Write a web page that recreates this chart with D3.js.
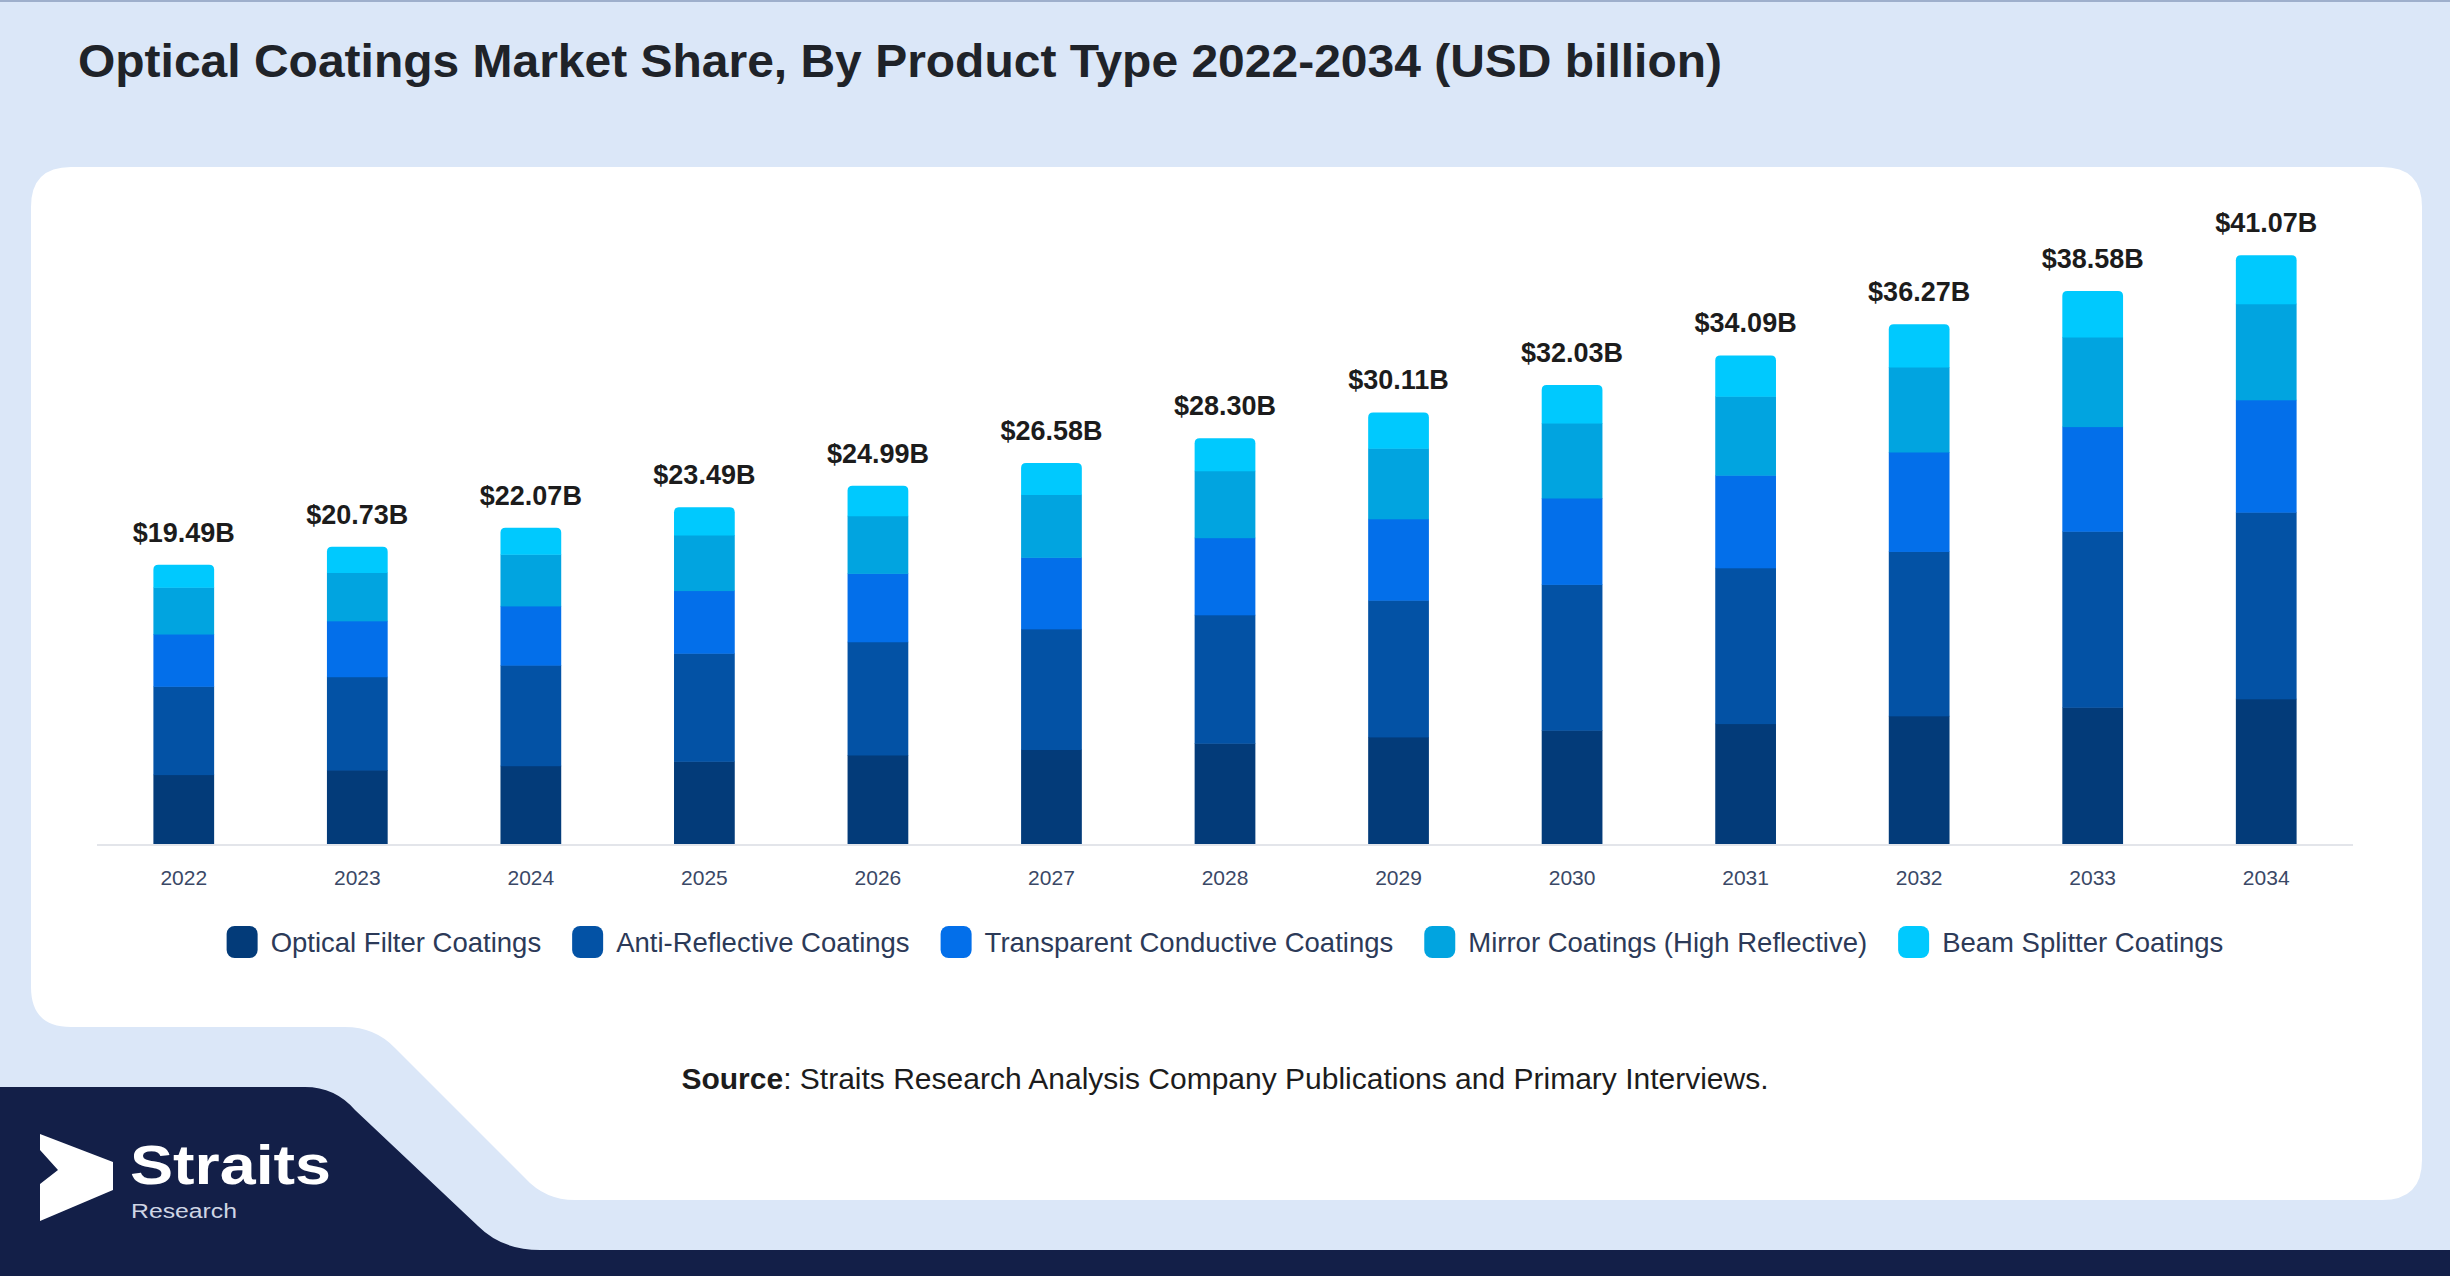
<!DOCTYPE html>
<html>
<head>
<meta charset="utf-8">
<style>
  html, body { margin: 0; padding: 0; background: #dbe7f8; }
  svg { display: block; font-family: "Liberation Sans", Arial, sans-serif; }
</style>
</head>
<body>
<script src="https://cdn.jsdelivr.net/npm/d3@7"></script>
<script>
  const years = ['2022', '2023', '2024', '2025', '2026', '2027', '2028', '2029', '2030', '2031', '2032', '2033', '2034'];
  const seriesNames = ['Optical Filter Coatings', 'Anti-Reflective Coatings', 'Transparent Conductive Coatings',
    'Mirror Coatings (High Reflective)', 'Beam Splitter Coatings'];
  const opticalFilter = [4.84, 5.16, 5.46, 5.77, 6.21, 6.59, 7.03, 7.47, 7.94, 8.40, 8.94, 9.54, 10.13];
  const antiReflective = [6.16, 6.51, 7.02, 7.54, 7.90, 8.42, 8.96, 9.54, 10.17, 10.87, 11.47, 12.28, 13.02];
  const transparentConductive = [3.65, 3.90, 4.13, 4.37, 4.77, 4.99, 5.38, 5.68, 6.03, 6.46, 6.94, 7.30, 7.84];
  const mirror = [3.26, 3.37, 3.60, 3.88, 4.02, 4.38, 4.67, 4.92, 5.23, 5.51, 5.93, 6.26, 6.71];
  const beamSplitter = [1.58, 1.79, 1.86, 1.93, 2.09, 2.20, 2.26, 2.50, 2.66, 2.85, 2.99, 3.20, 3.37];
  const totals = [19.49, 20.73, 22.07, 23.49, 24.99, 26.58, 28.30, 30.11, 32.03, 34.09, 36.27, 38.58, 41.07];
  const colors = ['#033b79', '#0352a5', '#036fea', '#01a4e0', '#00c9fe'];

  const W = 2450, H = 1276;
  const svg = d3.select('body').append('svg').attr('width', W).attr('height', H);

  // backdrop
  svg.append('rect').attr('width', W).attr('height', H).attr('fill', '#dbe7f8');
  svg.append('rect').attr('width', W).attr('height', 2).attr('fill', '#9eafcc');

  // white card with the cut corner at bottom left
  svg.append('path')
    .attr('fill', '#ffffff')
    .attr('d', 'M31,207 Q31,167 71,167 L2382,167 Q2422,167 2422,207 L2422,1160 Q2422,1200 2382,1200 ' +
      'L575,1200 Q545,1200 525,1178 L395,1048 Q375,1027 345,1027 L71,1027 Q31,1027 31,987 Z');

  // navy footer
  svg.append('path')
    .attr('fill', '#131f48')
    .attr('d', 'M0,1087 L305,1087 Q335,1087 355,1110 L478,1226 Q502,1250 540,1250 L2450,1250 L2450,1276 L0,1276 Z');

  // logo
  svg.append('polygon')
    .attr('fill', '#ffffff')
    .attr('points', '40,1134 113,1162 113,1190 40,1221 40,1184 58,1170 40,1150');
  svg.append('text').attr('x', 130).attr('y', 1184)
    .attr('font-size', 56).attr('font-weight', 'bold').attr('fill', '#ffffff')
    .attr('textLength', 201).attr('lengthAdjust', 'spacingAndGlyphs')
    .text('Straits');
  svg.append('text').attr('x', 131).attr('y', 1218)
    .attr('font-size', 20).attr('fill', '#cfd5e4')
    .attr('textLength', 106).attr('lengthAdjust', 'spacingAndGlyphs')
    .text('Research');

  // title
  svg.append('text').attr('x', 78).attr('y', 77)
    .attr('font-size', 46).attr('font-weight', 'bold').attr('fill', '#1f2329')
    .attr('textLength', 1644).attr('lengthAdjust', 'spacingAndGlyphs')
    .text('Optical Coatings Market Share, By Product Type 2022-2034 (USD billion)');

  // chart
  const x = d3.scaleBand().domain(years).range([97, 2353]).paddingInner(0.65).paddingOuter(0.325);
  const y = d3.scaleLinear().domain([0, 45]).range([844, 199]);

  const table = years.map((yr, i) => ({
    year: yr,
    s0: opticalFilter[i], s1: antiReflective[i], s2: transparentConductive[i], s3: mirror[i], s4: beamSplitter[i]
  }));
  const keys = ['s0', 's1', 's2', 's3', 's4'];
  const stacked = d3.stack().keys(keys)(table);

  const layers = svg.append('g').selectAll('g').data(stacked).join('g')
    .attr('fill', (d, i) => colors[i]);

  layers.each(function(layer, li) {
    const g = d3.select(this);
    if (li < keys.length - 1) {
      g.selectAll('rect').data(layer).join('rect')
        .attr('x', d => x(d.data.year))
        .attr('width', x.bandwidth())
        .attr('y', d => y(d[1]))
        .attr('height', d => y(d[0]) - y(d[1]) + 0.5);
    } else {
      const r = 5;
      g.selectAll('path').data(layer).join('path')
        .attr('d', d => {
          const x0 = x(d.data.year), x1 = x0 + x.bandwidth();
          const top = y(d[1]), bot = y(d[0]) + 0.5;
          return `M${x0},${bot} L${x0},${top + r} Q${x0},${top} ${x0 + r},${top} ` +
            `L${x1 - r},${top} Q${x1},${top} ${x1},${top + r} L${x1},${bot} Z`;
        });
    }
  });

  // baseline
  svg.append('line')
    .attr('x1', 97).attr('x2', 2353).attr('y1', y(0) + 1).attr('y2', y(0) + 1)
    .attr('stroke', '#e3e5ea').attr('stroke-width', 2);

  // x axis labels
  const xAxis = svg.append('g')
    .attr('transform', `translate(0, ${y(0) + 1})`)
    .call(d3.axisBottom(x).tickSize(0).tickPadding(25));
  xAxis.select('.domain').remove();
  xAxis.selectAll('text')
    .attr('font-size', 21).attr('fill', '#3a4866')
    .attr('font-family', '"Liberation Sans", Arial, sans-serif');

  // totals
  svg.append('g').selectAll('text').data(years).join('text')
    .attr('x', d => x(d) + x.bandwidth() / 2)
    .attr('y', (d, i) => y(totals[i]) - 23)
    .attr('text-anchor', 'middle')
    .attr('font-size', 27).attr('font-weight', 'bold').attr('fill', '#1c1c1c')
    .text((d, i) => '$' + totals[i].toFixed(2) + 'B');

  // legend
  const legend = svg.append('g');
  const sw = 31, gapIn = 13, gapOut = 31;
  let cx = 0;
  seriesNames.forEach((name, i) => {
    const item = legend.append('g').attr('transform', `translate(${cx}, 0)`);
    item.append('rect').attr('x', 0).attr('y', -16).attr('width', sw).attr('height', 32)
      .attr('rx', 8).attr('fill', colors[i]);
    const t = item.append('text').attr('x', sw + gapIn).attr('y', 10)
      .attr('font-size', 27.5).attr('fill', '#2c3a58').text(name);
    cx += sw + gapIn + t.node().getComputedTextLength() + gapOut;
  });
  const legendW = cx - gapOut;
  legend.attr('transform', `translate(${1225 - legendW / 2}, 942)`);

  // source
  const src = svg.append('text').attr('x', 1225).attr('y', 1089)
    .attr('text-anchor', 'middle').attr('font-size', 30).attr('fill', '#1c1c1c');
  src.append('tspan').attr('font-weight', 'bold').text('Source');
  src.append('tspan').text(': Straits Research Analysis Company Publications and Primary Interviews.');
</script>
</body>
</html>
